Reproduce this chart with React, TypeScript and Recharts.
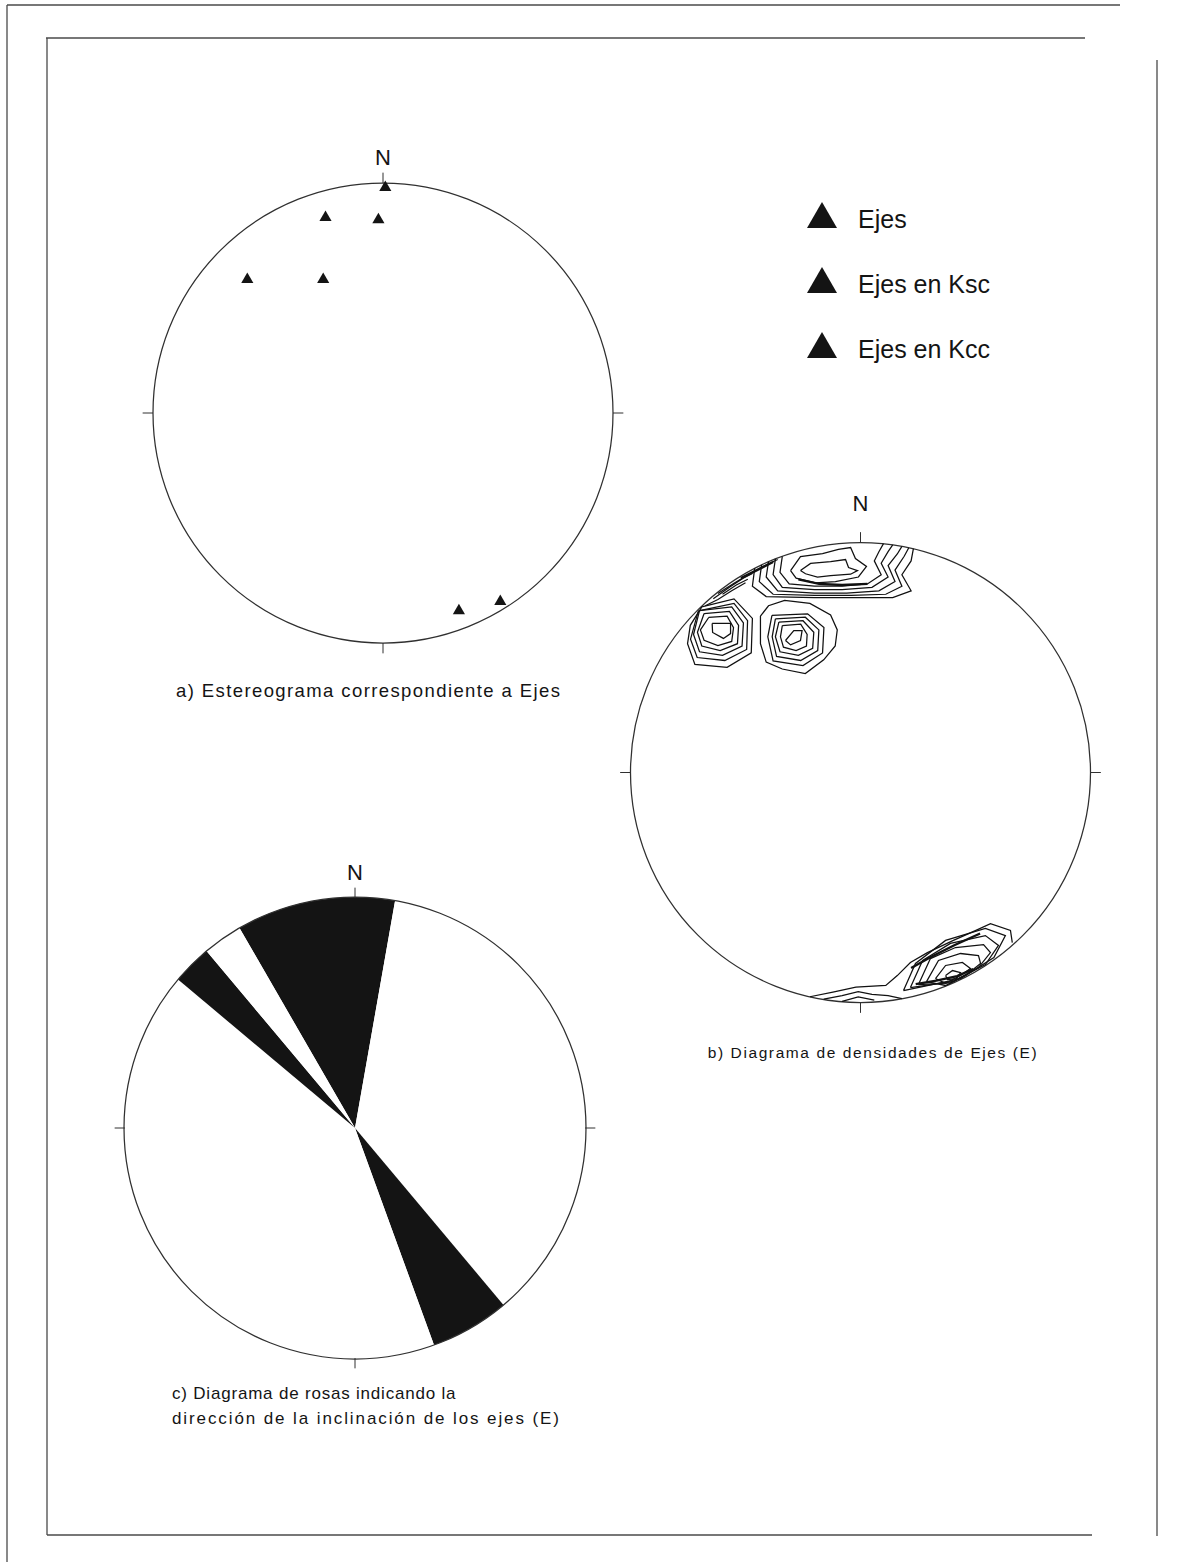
import React from 'react';
import {
  ScatterChart, Scatter, XAxis, YAxis, ZAxis, ReferenceDot, ReferenceLine,
  Legend, Symbols, PieChart, Pie, Cell,
} from 'recharts';

// a) Ejes, posiciones en la proyección (x = Este, y = Norte, radio 1)
const ejesX = [0.01, -0.25, -0.02, -0.59, -0.26, 0.33, 0.51];
const ejesY = [0.98, 0.85, 0.84, 0.58, 0.58, -0.86, -0.82];
const legendLabels = ['Ejes', 'Ejes en Ksc', 'Ejes en Kcc'];

// c) rosa: sectores de 10° (azimut inicial, amplitud, con datos o no)
const roseFrom = [330, 10, 140, 160, 310, 320];
const roseSpan = [40, 130, 20, 150, 10, 10];
const roseFilled = [true, false, true, false, true, false];

// b) isolíneas de densidad (radio 100), leídas del diagrama
const densTop = [
  [[-26.1, 87.8], [-21.7, 90.9], [-13, 91.7], [-6.5, 92.6], [-5.2, 89.1], [-1.3, 87.8], [-4.3, 86.2], [-13, 85.6], [-18.7, 85], [-23.9, 86.4], [-26.1, 87.8]],
  [[-30.4, 87.8], [-26.1, 93.9], [-16.5, 95.2], [-9.6, 97], [-4.3, 97.8], [-2.2, 93], [2.6, 89.6], [-0.9, 85], [-10.9, 83], [-19.6, 82.5], [-28, 84.5], [-30.4, 87.8]],
  [[-34, 94], [-35, 87], [-31, 82], [-20, 81], [-8, 81], [3, 82], [9, 86], [6, 92], [8, 96], [10, 99.5]],
  [[-37, 92.9], [-38, 86], [-34, 80.5], [-20, 79.5], [-8, 79.5], [5, 80.5], [12, 85], [9, 91], [12, 96], [14, 99]],
  [[-40, 91.7], [-41, 85], [-36, 79], [-20, 78], [-6, 78], [8, 79], [15, 83], [12, 90], [16, 95], [18, 98.3]],
  [[-43, 90.3], [-44, 83], [-38, 77.5], [-20, 77], [-4, 77], [11, 77.5], [18, 81], [15, 88], [19, 94], [21, 97.7]],
  [[-46, 88.8], [-47, 81], [-41, 76.5], [-20, 76], [-2, 76], [14, 76], [22, 79], [18, 86], [22, 92], [23, 97.3]],
  [[-64, 75.5], [-57, 80.5], [-51, 84.5], [-47, 86.5]],
  [[-60, 77.5], [-54, 81.5], [-49, 84]],
  [[-67.5, 72.5], [-62, 75.2], [-56, 79], [-50, 82.5]],
  [[-62, 77.8], [-55, 82.3], [-48, 86.5], [-42, 89.8], [-36, 92.6]],
];
const densWest = [
  [[-64.5, 64.8], [-56.5, 64.8], [-56.5, 60.4], [-59.6, 58.3], [-64.3, 60.9], [-64.5, 64.8]],
  [[-66, 67.4], [-58, 68], [-55.2, 63], [-56, 57], [-62, 55.2], [-68, 57.5], [-69.6, 62], [-66, 67.4]],
  [[-68, 69.1], [-57, 70], [-53, 64], [-53.5, 56], [-61, 53], [-69, 55], [-70.9, 61], [-68, 69.1]],
  [[-70, 70.4], [-56, 72], [-50.9, 65], [-51.5, 55], [-60, 50.9], [-70, 52.5], [-72.6, 60], [-70, 70.4]],
  [[-70.5, 70.3], [-55, 73.5], [-49.1, 66], [-49.5, 53.5], [-59, 48.7], [-71, 50], [-73.9, 58], [-70.5, 70.3]],
  [[-69, 72], [-55, 75.5], [-47, 67], [-47.5, 52], [-58, 45.7], [-72, 47], [-75.2, 56], [-74, 64], [-69, 72]],
];
const densMid = [
  [[-32.6, 57.4], [-29, 61.7], [-25.4, 61.7], [-26.1, 57.4], [-30.4, 55.5], [-32.6, 57.4]],
  [[-34, 63.9], [-26, 64.5], [-23.2, 60], [-23.5, 55], [-28, 53], [-33.5, 54.5], [-34.8, 59], [-34, 63.9]],
  [[-35.5, 65.4], [-25, 66], [-20.3, 61], [-20.8, 54], [-27, 50.9], [-35, 52.5], [-37, 59], [-35.5, 65.4]],
  [[-37, 66.8], [-24, 67.5], [-18.1, 62], [-18.6, 53], [-26, 48.7], [-36.5, 50.5], [-38.4, 59], [-37, 66.8]],
  [[-38.5, 68.3], [-23, 69], [-15.9, 63], [-16.5, 52], [-25, 46.5], [-38, 48.5], [-40.3, 59], [-38.5, 68.3]],
  [[-43.5, 68], [-40, 72.5], [-33, 74.8], [-22, 73.5], [-13, 68.5], [-10.1, 62], [-11, 55], [-16, 49], [-24, 43], [-34, 45], [-41, 48], [-43.5, 56], [-43.5, 68]],
];
const densSouthEast = [
  [[37, -88.3], [40, -86.1], [43.5, -87], [41.7, -89.6], [37.8, -90], [37, -88.3]],
  [[32.6, -89.6], [37, -83.9], [44.3, -82.6], [47.8, -85.2], [43.5, -88.3], [37, -91.7], [32.6, -89.6]],
  [[28.7, -90.9], [33.9, -81.7], [43.5, -78.7], [51.3, -79.6], [52.2, -83], [45.7, -88.3], [37, -92.6], [28.7, -90.9]],
  [[25.2, -92.2], [30.4, -80.9], [41.3, -76.1], [53.5, -74.8], [56.5, -78.3], [51.3, -84.8], [39, -91.5], [25.2, -92.2]],
  [[21.7, -93.5], [27, -81.7], [39.1, -74.3], [54.3, -70.9], [60, -75.2], [54.3, -83.5], [40.5, -90.8], [21.7, -93.5]],
  [[18.7, -94.8], [23.9, -83], [37, -73], [54.3, -67.8], [63, -70.9], [58, -80.5], [43.5, -89.6], [18.7, -94.8]],
  [[-22, -97.5], [-12, -95.5], [-2, -93.3], [11, -92.6], [16, -88.3], [21.7, -82.6], [29.1, -78.3], [40.4, -73], [50.9, -68.3], [56.5, -65.7], [65.2, -68.7], [66, -74]],
  [[-16, -98.5], [-8, -97], [-1, -95.3], [5, -96.5], [12, -97], [18, -98.3]],
  [[-8, -99.5], [-1, -97.6], [6, -99]],
];
const densBands = [
  [[24, -92], [33, -90.5], [42, -88.5], [49, -85.5]],
  [[22, -85], [31, -80], [41, -75], [52, -70]],
  [[-27, 84], [-18, 82], [-8, 81.5], [3, 82]],
  [[-52, 84.5], [-45, 88], [-38, 91.5]],
];

const FONT = '"Liberation Sans", Arial, sans-serif';
const LINE = '#303030';
const INK = '#141414';

const ejes = ejesX.map((x, i) => ({ x, y: ejesY[i] }));
const roseData = roseSpan.map((span, i) => ({ bin: `${roseFrom[i]}°`, span, filled: roseFilled[i] }));
const toPts = (ring: number[][]) => ring.map(([x, y]) => ({ x, y }));
const densityLines = [
  ...[...densTop, ...densWest, ...densMid, ...densSouthEast].map((r) => ({ pts: toPts(r), w: 1.25 })),
  ...densBands.map((r) => ({ pts: toPts(r), w: 2.4 })),
];

const noDot = () => <g />;

function netFrame(R: number, rPx: number, nY: number) {
  const t = R * 0.045;
  return [
    <ReferenceDot key="circ" x={0} y={0} r={rPx} fill="none" stroke={LINE} strokeWidth={1.25} ifOverflow="visible" />,
    <ReferenceLine key="tn" segment={[{ x: 0, y: R }, { x: 0, y: R + t }]} stroke={LINE} ifOverflow="visible" />,
    <ReferenceLine key="ts" segment={[{ x: 0, y: -R }, { x: 0, y: -R - t }]} stroke={LINE} ifOverflow="visible" />,
    <ReferenceLine key="te" segment={[{ x: R, y: 0 }, { x: R + t, y: 0 }]} stroke={LINE} ifOverflow="visible" />,
    <ReferenceLine key="tw" segment={[{ x: -R, y: 0 }, { x: -R - t, y: 0 }]} stroke={LINE} ifOverflow="visible" />,
    <ReferenceDot
      key="lab" x={0} y={nY} r={0} fill="none" stroke="none" ifOverflow="visible"
      label={{ value: 'N', position: 'center', fontSize: 22, fill: INK, fontFamily: FONT }}
    />,
  ];
}

const renderLegend = () => (
  <div style={{ position: 'relative', width: 220, height: 200 }}>
    {legendLabels.map((t, i) => (
      <div key={t} style={{ position: 'absolute', left: 0, top: i * 65, width: 220, height: 30 }}>
        <svg width={32} height={28} style={{ position: 'absolute', left: 0, top: 0 }}>
          <Symbols cx={15} cy={17.3} type="triangle" size={390} fill={INK} />
        </svg>
        <span style={{ position: 'absolute', left: 51, top: 5, fontSize: 25, lineHeight: '25px', fontFamily: FONT, color: INK, whiteSpace: 'nowrap' }}>
          {t}
        </span>
      </div>
    ))}
  </div>
);

const caption: React.CSSProperties = { position: 'absolute', fontFamily: FONT, color: INK, whiteSpace: 'nowrap', lineHeight: 1 };

export default function App() {
  return (
    <div style={{ position: 'absolute', left: 0, top: 0, width: 1184, height: 1562, background: '#fff', overflow: 'hidden' }}>
      <svg width={1184} height={1562} style={{ position: 'absolute', left: 0, top: 0 }}>
        <g stroke="#4a4a4a" strokeWidth={1.3}>
          <line x1={7} y1={5} x2={1120} y2={5} />
          <line x1={7} y1={5} x2={7} y2={1562} />
          <line x1={46} y1={38} x2={1085} y2={38} />
          <line x1={47} y1={38} x2={47} y2={1535} />
          <line x1={47} y1={1535} x2={1092} y2={1535} />
          <line x1={1157} y1={60} x2={1157} y2={1536} />
        </g>
      </svg>

      {/* a) estereograma */}
      <div style={{ position: 'absolute', left: 107, top: 137 }}>
        <ScatterChart width={552} height={552} margin={{ top: 0, right: 0, bottom: 0, left: 0 }}>
          <XAxis type="number" dataKey="x" domain={[-1.2, 1.2]} hide allowDataOverflow />
          <YAxis type="number" dataKey="y" domain={[-1.2, 1.2]} hide allowDataOverflow />
          <ZAxis range={[115, 115]} />
          {netFrame(1, 230, 1.113)}
          <Scatter name="Ejes" data={ejes} shape="triangle" fill={INK} legendType="triangle" isAnimationActive={false} />
          <Legend
            layout="vertical" align="center" verticalAlign="middle"
            wrapperStyle={{ left: 700, top: 65, width: 220, height: 200 }}
            content={renderLegend}
          />
        </ScatterChart>
      </div>
      <div style={{ ...caption, left: 176, top: 682, fontSize: 18.5, letterSpacing: 1.4 }}>
        a) Estereograma correspondiente a Ejes
      </div>

      {/* b) densidades */}
      <div style={{ position: 'absolute', left: 572.5, top: 484.5 }}>
        <ScatterChart width={575} height={575} margin={{ top: 0, right: 0, bottom: 0, left: 0 }}>
          <XAxis type="number" dataKey="x" domain={[-125, 125]} hide allowDataOverflow />
          <YAxis type="number" dataKey="y" domain={[-125, 125]} hide allowDataOverflow />
          {netFrame(100, 230, 117)}
          {densityLines.map((ln, i) => (
            <Scatter
              key={i} data={ln.pts} shape={noDot} lineType="joint"
              line={{ stroke: '#111', strokeWidth: ln.w }}
              legendType="none" isAnimationActive={false}
            />
          ))}
        </ScatterChart>
      </div>
      <div style={{ ...caption, left: 673, width: 400, top: 1045, fontSize: 15.5, letterSpacing: 1.6, textAlign: 'center' }}>
        b) Diagrama de densidades de Ejes (E)
      </div>

      {/* c) diagrama de rosas */}
      <div style={{ position: 'absolute', left: 79, top: 852 }}>
        <PieChart width={552} height={552} margin={{ top: 0, right: 0, bottom: 0, left: 0 }}>
          <Pie
            data={roseData} dataKey="span" nameKey="bin" cx={276} cy={276}
            innerRadius={0} outerRadius={231}
            startAngle={90 - roseFrom[0] + 360} endAngle={90 - roseFrom[0]}
            stroke="none" isAnimationActive={false}
          >
            {roseData.map((d) => (
              <Cell key={d.bin} fill={d.filled ? INK : '#ffffff'} />
            ))}
          </Pie>
        </PieChart>
      </div>
      <div style={{ position: 'absolute', left: 79, top: 852 }}>
        <ScatterChart width={552} height={552} margin={{ top: 0, right: 0, bottom: 0, left: 0 }}>
          <XAxis type="number" dataKey="x" domain={[-1.2, 1.2]} hide allowDataOverflow />
          <YAxis type="number" dataKey="y" domain={[-1.2, 1.2]} hide allowDataOverflow />
          {netFrame(1, 231, 1.113)}
        </ScatterChart>
      </div>
      <div style={{ ...caption, left: 172, top: 1385, fontSize: 17, letterSpacing: 0.8 }}>
        c) Diagrama de rosas indicando la
      </div>
      <div style={{ ...caption, left: 172, top: 1410, fontSize: 17, letterSpacing: 1.9 }}>
        dirección de la inclinación de los ejes (E)
      </div>
    </div>
  );
}
